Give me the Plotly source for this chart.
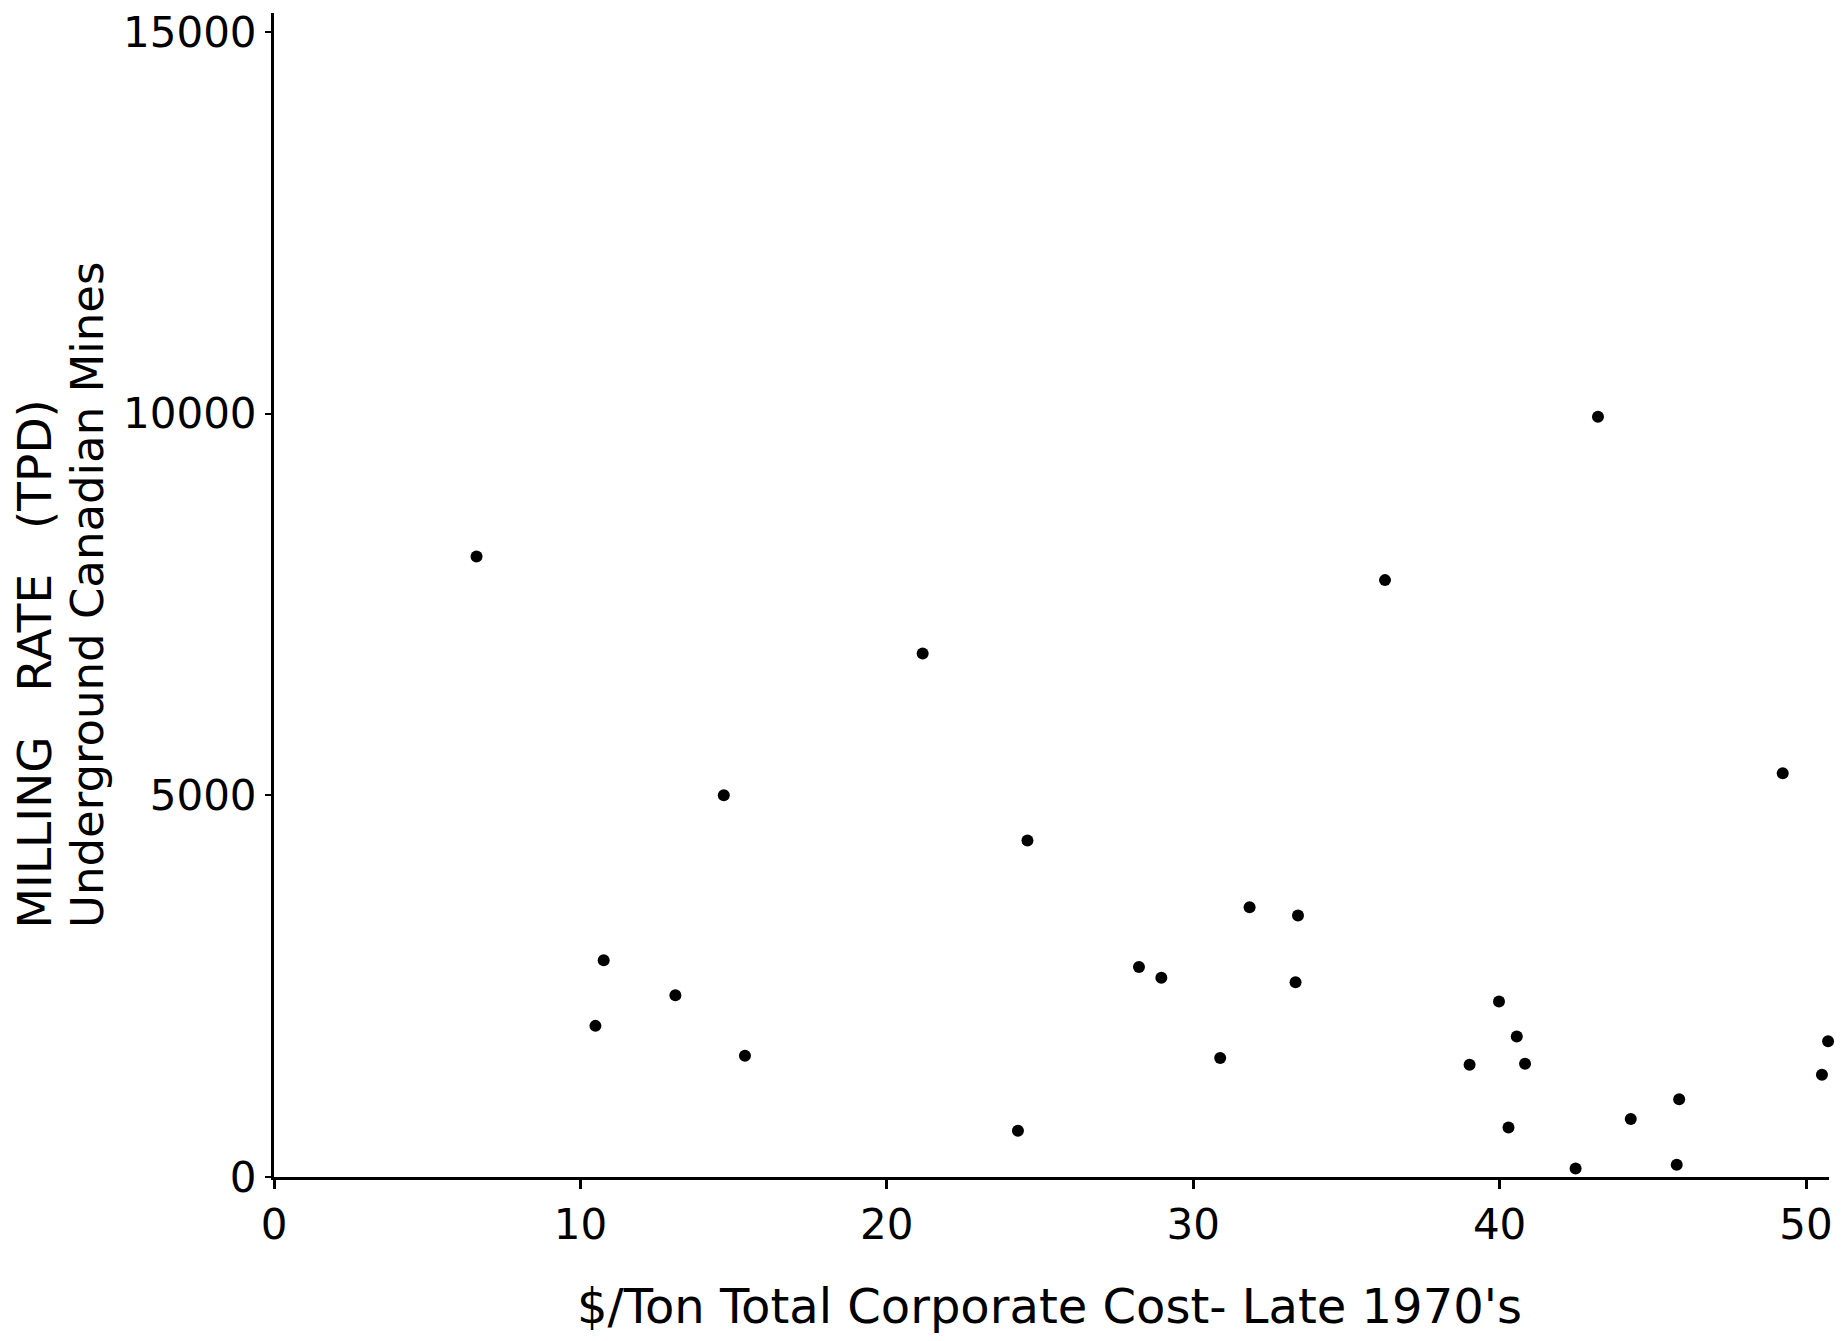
import plotly.graph_objects as go

# Data
cost_per_ton = [6.61, 10.76, 10.49, 13.10, 14.68, 15.37, 21.17, 24.28, 24.59, 28.23,
                28.96, 30.88, 31.84, 33.42, 33.34, 36.26, 39.02, 39.98, 40.56, 40.83,
                40.29, 42.48, 43.21, 44.28, 45.86, 45.78, 49.24, 50.52, 50.72]
milling_rate = [8130, 2840, 1980, 2380, 5000, 1590, 6860, 605, 4410, 2750,
                2610, 1560, 3535, 3425, 2550, 7820, 1470, 2300, 1840, 1485,
                650, 110, 9960, 760, 1020, 160, 5290, 1340, 1780]

x_ticks = [0, 10, 20, 30, 40, 50]
y_ticks = [0, 5000, 10000, 15000]

FONT = "DejaVu Sans"

fig = go.Figure()
fig.add_trace(go.Scatter(
    x=cost_per_ton, y=milling_rate, mode="markers",
    marker=dict(color="black", size=12, line=dict(width=0)),
    cliponaxis=False, showlegend=False,
))

fig.update_layout(
    width=1845, height=1341,
    margin=dict(l=266, r=24, t=5, b=172),
    paper_bgcolor="white", plot_bgcolor="white",
    font=dict(family=FONT, color="black", size=42),
    xaxis=dict(
        range=[0, 50.75], tickvals=x_ticks, ticktext=[str(v) for v in x_ticks],
        showgrid=False, zeroline=False, showline=True, linecolor="black", linewidth=3,
        ticks="outside", ticklen=9, tickwidth=3, tickcolor="black",
        tickfont=dict(family=FONT, size=42, color="black"),
        automargin=False, ticklabeloverflow="allow",
    ),
    yaxis=dict(
        range=[0, 15250], tickvals=y_ticks, ticktext=[str(v) for v in y_ticks],
        showgrid=False, zeroline=False, showline=True, linecolor="black", linewidth=3,
        ticks="outside", ticklen=6, tickwidth=2, tickcolor="black",
        tickfont=dict(family=FONT, size=42, color="black"),
        automargin=False, ticklabeloverflow="allow",
    ),
    annotations=[
        dict(text="$/Ton Total Corporate Cost- Late 1970's",
             xref="paper", yref="paper", x=0.4984, y=-0.1108,
             xanchor="center", yanchor="middle", showarrow=False,
             font=dict(family=FONT, size=48, color="black")),
        dict(text="MILLING   RATE   (TPD)",
             xref="paper", yref="paper", x=-0.1537, y=0.2122,
             xanchor="center", yanchor="bottom", textangle=-90, showarrow=False,
             font=dict(family=FONT, size=47, color="black")),
        dict(text="Underground Canadian Mines",
             xref="paper", yref="paper", x=-0.1196, y=0.2122,
             xanchor="center", yanchor="bottom", textangle=-90, showarrow=False,
             font=dict(family=FONT, size=45, color="black")),
    ],
)

fig.write_html("out.html")
